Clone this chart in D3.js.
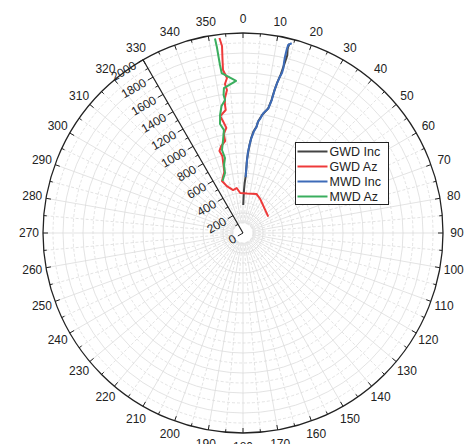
<!DOCTYPE html>
<html>
<head>
<meta charset="utf-8">
<script src="https://cdn.jsdelivr.net/npm/d3@7"></script>
<style>
  body { margin: 0; background: #fff; }
  svg { display: block; font-family: "Liberation Sans", Arial, sans-serif; }
</style>
</head>
<body>
<div id="chart"></div>
<script>
// depth (m) vs angle (deg)
var gwdIncDepth = [280, 350, 430, 500, 560, 640, 730, 800, 880, 950, 1020, 1070, 1130, 1200, 1270, 1360, 1450, 1540, 1630, 1720, 1830, 1900, 1950];
var gwdIncAngle = [0.5, 0.9, 1.3, 1.9, 2.6, 2.9, 3.1, 3.6, 4.2, 4.9, 5.9, 7.2, 7.8, 9.3, 11.4, 12.1, 12.4, 12.8, 13.4, 13.7, 14.0, 13.6, 13.8];

var gwdAzDepth = [301, 380, 413, 397, 401, 454, 441, 496, 561, 639, 707, 798, 854, 897, 937, 1010, 1064, 1128, 1190, 1242, 1304, 1362, 1439, 1501, 1558, 1642, 1762, 1882, 1964];
var gwdAzAngle = [57, 27, 19, 6, 356, 352, 347, 341, 338, 343, 344, 345, 344, 346, 349, 349, 351, 350, 349, 352, 352, 352.4, 353.6, 353.1, 354.1, 353, 353.3, 353.6, 353.1];

var mwdIncDepth = [560, 650, 740, 810, 880, 950, 1020, 1072, 1120, 1157, 1214, 1272, 1360, 1430, 1482, 1550, 1606, 1650, 1696, 1760, 1812, 1881, 1934, 1959];
var mwdIncAngle = [2.7, 3.0, 3.2, 3.5, 4.2, 5.0, 6.1, 7.3, 7.6, 8.6, 9.6, 11.5, 12.2, 12.4, 12.5, 12.9, 13.3, 13.7, 13.75, 13.5, 13.4, 13.4, 13.5, 14.4];

var mwdAzDepth = [559, 626, 706, 771, 856, 951, 1047, 1114, 1202, 1288, 1342, 1394, 1462, 1522, 1614, 1696, 1777, 1878, 1965];
var mwdAzAngle = [338.5, 343.3, 344.4, 346.5, 345.8, 347.9, 349.5, 348.1, 349, 350.4, 352.3, 352, 352.5, 357.4, 352.4, 352.2, 352.1, 352, 351.8];

var seriesNames = ["GWD Inc", "GWD Az", "MWD Inc", "MWD Az"];
var seriesColors = ["#444444", "#ee3a3a", "#3d6bb8", "#3aae5e"];

var radialTicks = d3.range(0, 2001, 200);
var angleTicks = d3.range(0, 360, 10);

var width = 465, height = 444;
var cx = 243, cy = 233, R = 200;

var svg = d3.select("#chart").append("svg")
  .attr("width", width)
  .attr("height", height);

var r = d3.scaleLinear().domain([0, 2000]).range([0, R]);
var rad = function(deg) { return deg * Math.PI / 180; };

var g = svg.append("g").attr("transform", "translate(" + cx + "," + cy + ")");

// grid circles: solid at 200, dashed at 100
var grid = g.append("g");
d3.range(100, 2000, 100).forEach(function(v) {
  grid.append("circle")
    .attr("r", r(v))
    .attr("fill", "none")
    .attr("stroke", "#dcdcdc")
    .attr("stroke-width", 0.8)
    .attr("stroke-dasharray", v % 200 === 0 ? null : "3,2");
});
// grid spokes: solid at 10 deg, dashed at 5 deg
d3.range(0, 360, 5).forEach(function(a) {
  var s = Math.sin(rad(a)), c = -Math.cos(rad(a));
  grid.append("line")
    .attr("x1", r(100) * s).attr("y1", r(100) * c)
    .attr("x2", R * s).attr("y2", R * c)
    .attr("stroke", "#dcdcdc")
    .attr("stroke-width", 0.8)
    .attr("stroke-dasharray", a % 10 === 0 ? null : "3,2");
});

// outer circle + ticks
g.append("circle").attr("r", R).attr("fill", "none").attr("stroke", "#222").attr("stroke-width", 1.3);
d3.range(0, 360, 5).forEach(function(a) {
  var s = Math.sin(rad(a)), c = -Math.cos(rad(a));
  var len = a % 10 === 0 ? 5 : 3;
  g.append("line")
    .attr("x1", R * s).attr("y1", R * c)
    .attr("x2", (R - len) * s).attr("y2", (R - len) * c)
    .attr("stroke", "#222").attr("stroke-width", 1);
});
g.selectAll(".alabel").data(angleTicks).enter().append("text")
  .attr("x", function(d) { return 214 * Math.sin(rad(d)); })
  .attr("y", function(d) { return -214 * Math.cos(rad(d)); })
  .attr("text-anchor", "middle")
  .attr("dy", "0.35em")
  .attr("font-size", 12)
  .attr("fill", "#222")
  .text(function(d) { return d; });

// data lines
var line = d3.lineRadial()
  .angle(function(d) { return rad(d[1]); })
  .radius(function(d) { return r(d[0]); });

var series = [
  d3.zip(gwdIncDepth, gwdIncAngle),
  d3.zip(gwdAzDepth, gwdAzAngle),
  d3.zip(mwdIncDepth, mwdIncAngle),
  d3.zip(mwdAzDepth, mwdAzAngle)
];
series.forEach(function(pts, i) {
  g.append("path")
    .attr("d", line(pts))
    .attr("fill", "none")
    .attr("stroke", seriesColors[i])
    .attr("stroke-width", 2)
    .attr("stroke-linejoin", "round");
});

// radial axis at 330 deg
var axA = rad(330);
var ux = Math.sin(axA), uy = -Math.cos(axA);   // along axis
var px = -Math.cos(rad(30)), py = Math.sin(rad(30)); // outward normal (left-down)
var ax = g.append("g");
ax.append("line")
  .attr("x1", 0).attr("y1", 0)
  .attr("x2", R * ux).attr("y2", R * uy)
  .attr("stroke", "#222").attr("stroke-width", 1.2);
d3.range(0, 2001, 100).forEach(function(v) {
  var len = v % 200 === 0 ? 6 : 3;
  ax.append("line")
    .attr("x1", r(v) * ux).attr("y1", r(v) * uy)
    .attr("x2", r(v) * ux + len * px).attr("y2", r(v) * uy + len * py)
    .attr("stroke", "#222").attr("stroke-width", 1);
});
ax.selectAll("text").data(radialTicks).enter().append("text")
  .attr("transform", function(d) {
    var x = r(d) * ux + 9 * px, y = r(d) * uy + 9 * py;
    return "translate(" + x + "," + y + ") rotate(-30)";
  })
  .attr("text-anchor", "end")
  .attr("dy", "0.35em")
  .attr("font-size", 12)
  .attr("fill", "#222")
  .text(function(d) { return d; });

// legend
var lg = svg.append("g").attr("transform", "translate(295.5,142.5)");
lg.append("rect").attr("width", 93).attr("height", 62)
  .attr("fill", "#fff").attr("stroke", "#222").attr("stroke-width", 1);
seriesNames.forEach(function(name, i) {
  var y = 9 + i * 15;
  lg.append("line").attr("x1", 2).attr("x2", 32).attr("y1", y).attr("y2", y)
    .attr("stroke", seriesColors[i]).attr("stroke-width", 2);
  lg.append("text").attr("x", 34).attr("y", y).attr("dy", "0.35em")
    .attr("font-size", 12.5).attr("fill", "#222").text(name);
});
</script>
</body>
</html>
